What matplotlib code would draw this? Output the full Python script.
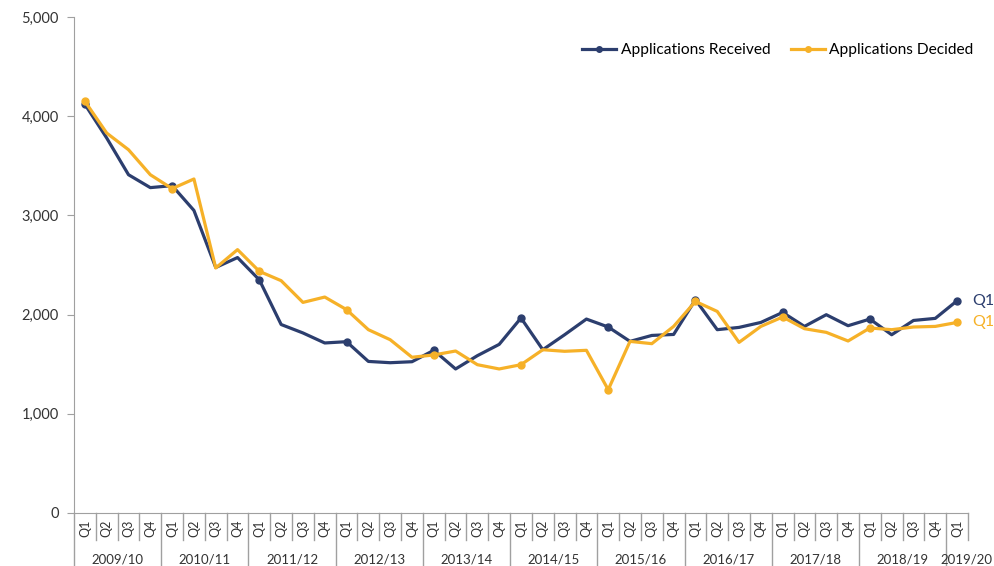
import matplotlib
matplotlib.use('Agg')
import matplotlib.pyplot as plt
import matplotlib.transforms as mtransforms
from matplotlib.ticker import FuncFormatter

plt.rcParams['font.family'] = ['Lato', 'DejaVu Sans']

# ── data ──
years = ['2009/10', '2010/11', '2011/12', '2012/13', '2013/14', '2014/15',
         '2015/16', '2016/17', '2017/18', '2018/19', '2019/20']
quarters = ['Q1', 'Q2', 'Q3', 'Q4'] * 10 + ['Q1']

received = [4120, 3780, 3410, 3280, 3300, 3050, 2475, 2575,
            2350, 1900, 1815, 1714, 1727, 1528, 1515, 1525,
            1640, 1452, 1586, 1700, 1966, 1646, 1797, 1955,
            1875, 1730, 1790, 1800, 2150, 1848, 1871, 1921,
            2022, 1881, 1999, 1888, 1955, 1797, 1941, 1962,
            2140]
decided = [4150, 3830, 3662, 3410, 3270, 3367, 2470, 2655,
           2436, 2342, 2123, 2177, 2050, 1848, 1747, 1570,
           1593, 1633, 1495, 1452, 1495, 1646, 1630, 1640,
           1243, 1730, 1707, 1881, 2133, 2032, 1720, 1881,
           1976, 1858, 1821, 1734, 1865, 1848, 1875, 1881,
           1921]

C_NAVY = '#2C3E6E'
C_GOLD = '#F6B128'
C_AXIS = '#A0A0A0'
C_TEXT = '#333333'

fig = plt.figure(figsize=(9.95, 5.66), dpi=100)
ax = fig.add_axes([74/995, 1 - 513/566, (968 - 74)/995, (513 - 17)/566])

x = list(range(len(quarters)))
q1_idx = list(range(0, len(quarters), 4))

ax.plot(x, received, color=C_NAVY, lw=2.3, marker='o', ms=5,
        markevery=q1_idx, label='Applications Received', solid_joinstyle='round')
ax.plot(x, decided, color=C_GOLD, lw=2.3, marker='o', ms=5,
        markevery=q1_idx, label='Applications Decided', solid_joinstyle='round')

# end labels
ax.text(len(x) - 1 + 0.7, received[-1], 'Q1', color=C_NAVY, fontsize=11.5,
        va='center', ha='left', clip_on=False)
ax.text(len(x) - 1 + 0.7, decided[-1], 'Q1', color=C_GOLD, fontsize=11.5,
        va='center', ha='left', clip_on=False)

# axes
ax.set_xlim(-0.5, len(x) - 0.5)
ax.set_ylim(0, 5000)
ax.set_yticks(range(0, 5001, 1000))
ax.yaxis.set_major_formatter(FuncFormatter(lambda v, p: f'{int(v):,}'))
ax.tick_params(axis='y', length=5, color=C_AXIS, labelsize=10.5,
               labelcolor=C_TEXT, pad=6)
for s in ['top', 'right']:
    ax.spines[s].set_visible(False)
ax.spines['left'].set_color(C_AXIS)
ax.spines['bottom'].set_color(C_AXIS)

ax.set_xticks(x)
ax.set_xticklabels(quarters, rotation=90, fontsize=9, color=C_TEXT)
ax.tick_params(axis='x', length=0, pad=5)

# category separators (multi-level axis)
trans = mtransforms.blended_transform_factory(ax.transData, ax.transAxes)
short_y = -27/496
long_y = -56/496
for i in range(len(x) + 1):
    xs = i - 0.5
    if i % 4 == 0 and i < len(x):
        y0 = long_y
    else:
        y0 = short_y
    ax.plot([xs, xs], [0, y0], color=C_AXIS, lw=1, transform=trans, clip_on=False)

# year labels
for k, yr in enumerate(years):
    if k < 10:
        xc = 4 * k + 1.5
    else:
        xc = 40.45
    ax.text(xc, -46/496, yr, transform=trans, ha='center', va='center',
            fontsize=9.5, color=C_TEXT)

ax.legend(loc='upper right', bbox_to_anchor=(1.022, 0.975), ncol=2, frameon=False,
          fontsize=11.2, handlelength=2.2, columnspacing=1.3, handletextpad=0.3,
          markerscale=0.8)

plt.savefig('out.png', dpi=100, facecolor='white')
plt.close()
